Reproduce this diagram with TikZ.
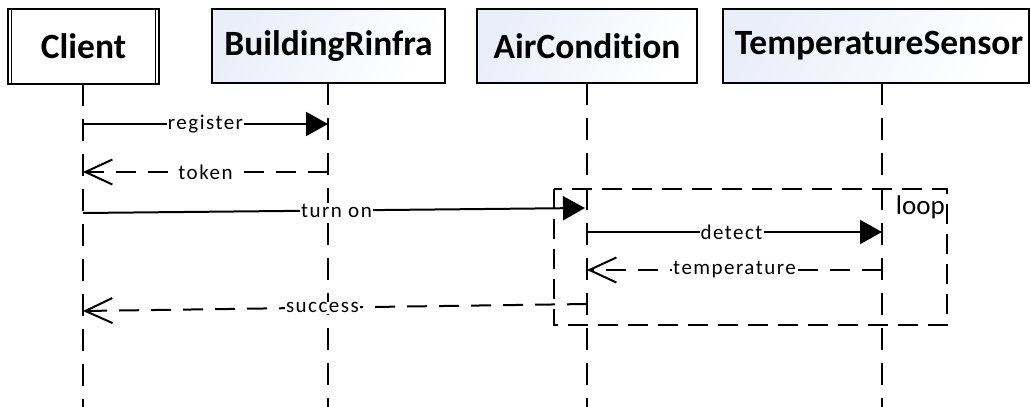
\documentclass[tikz,border=0pt]{standalone}
\usepackage{fontspec}
\setmainfont{Carlito}[Ligatures={NoCommon}]
\usetikzlibrary{arrows.meta}
\definecolor{boxtint}{RGB}{234,238,249}
\tikzset{
  x=1pt, y=-1pt,
  every node/.style={font=\fontsize{21}{24}\selectfont\addfontfeatures{LetterSpace=7}},
  headbox/.style={draw, line width=1.6pt, left color=boxtint, right color=white,
    shading angle=60, inner sep=0pt,
    font=\fontsize{35.5}{40}\selectfont\bfseries},
  clientbox/.style={draw, line width=1.6pt, fill=white, inner sep=0pt,
    font=\fontsize{35.5}{40}\selectfont\bfseries},
  lifeline/.style={line width=2pt, dash pattern=on 22pt off 13pt},
  call/.style={line width=2pt, -{Triangle[length=22pt,width=24pt]}},
  reply/.style={line width=2pt, dash pattern=on 20pt off 12pt,
    -{Straight Barb[length=27pt,width=25pt,line width=2pt]}},
  msglabel/.style={fill=white, inner sep=1pt},
  frame/.style={line width=2pt, dash pattern=on 20pt off 10pt},
}
\begin{document}
\begin{tikzpicture}
\useasboundingbox (0,0) rectangle (1031,407);

% participants
\node[clientbox, minimum width=151pt, minimum height=75pt] (client) at (83.5,46.5) {Client};
\node[headbox, minimum width=233pt, minimum height=74pt] (infra) at (328.5,46) {BuildingRinfra};
\node[headbox, minimum width=220pt, minimum height=74pt] (ac) at (587,46) {AirCondition};
\node[headbox, minimum width=306pt, minimum height=74pt] (ts) at (876,46) {\hspace*{6pt}TemperatureSensor};
% inner rules of the client's double frame
\draw[line width=1.2pt] ([xshift=4pt,yshift=-1pt]client.north west) -- ([xshift=4pt,yshift=1pt]client.south west);
\draw[line width=1.2pt] ([xshift=-4pt,yshift=-1pt]client.north east) -- ([xshift=-4pt,yshift=1pt]client.south east);

% lifelines
\coordinate (cl-top) at (83,84);   \coordinate (cl-end) at (83,407);
\coordinate (in-top) at (328,83);  \coordinate (in-end) at (328,407);
\coordinate (ac-top) at (587,83);  \coordinate (ac-end) at (587,407);
\coordinate (ts-top) at (882,83);  \coordinate (ts-end) at (882,407);
\draw[lifeline] (cl-top) -- (cl-end);
\draw[lifeline] (in-top) -- (in-end);
\draw[lifeline] (ac-top) -- (ac-end);
\draw[lifeline] (ts-top) -- (ts-end);

% loop fragment
\coordinate (loop-nw) at (554,189);
\coordinate (loop-se) at (947,325);
\draw[frame] (loop-nw) rectangle (loop-se);
\node[anchor=north east, inner sep=0pt, font=\fontsize{27}{30}\selectfont] (looplbl) at (945,196) {loop};

% message ends
\coordinate (reg-a) at (83,124);  \coordinate (reg-b) at (328,124);
\coordinate (tok-a) at (328,172); \coordinate (tok-b) at (83,172);
\coordinate (on-a) at (83,213);   \coordinate (on-b) at (585,208);
\coordinate (det-a) at (587,232); \coordinate (det-b) at (882,232);
\coordinate (tmp-a) at (882,270); \coordinate (tmp-b) at (587,270);
\coordinate (suc-a) at (587,304); \coordinate (suc-b) at (83,311);

% messages
\draw[call] (reg-a) -- node[msglabel, pos=0.5] {register} (reg-b);
\draw[reply] (tok-a) -- node[msglabel, pos=0.5] {token} (tok-b);
\draw[call] (on-a) -- node[msglabel, pos=0.505] {turn on} (on-b);
\draw[call] (det-a) -- node[msglabel, pos=0.49] {detect} (det-b);
\draw[reply] (tmp-a) -- node[msglabel, pos=0.5] {temperature} (tmp-b);
\draw[reply] (suc-a) -- node[msglabel, pos=0.525] {success} (suc-b);
\end{tikzpicture}
\end{document}
